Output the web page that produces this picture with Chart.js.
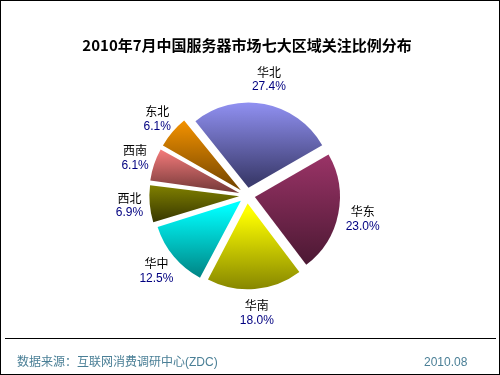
<!DOCTYPE html>
<html>
<head>
<meta charset="utf-8">
<script src="https://cdn.jsdelivr.net/npm/chart.js@4.4.1/dist/chart.umd.min.js"></script>
<style>
  html, body { margin: 0; padding: 0; background: #fff; }
  #wrap { position: relative; width: 500px; height: 375px; box-sizing: border-box; border: 1px solid #000; overflow: hidden; }
  #chart { position: absolute; left: 0; top: 0; }
  #rule { position: absolute; left: 4px; right: 3px; top: 337px; height: 0; border-top: 1px solid #000; }
  .foot { position: absolute; top: 353px; font: 12px "Liberation Sans", "Noto Sans CJK SC", sans-serif; color: #4a7f96; line-height: 16px; white-space: nowrap; }
  #src { left: 16px; }
  #date { left: 423px; }
</style>
</head>
<body>
<div id="wrap">
  <canvas id="chart" width="498" height="373"></canvas>
  <div id="rule"></div>
  <div class="foot" id="src">数据来源：互联网消费调研中心(ZDC)</div>
  <div class="foot" id="date">2010.08</div>
</div>
<script>
const titleText = '2010年7月中国服务器市场七大区域关注比例分布';
const regions = ['华北', '华东', '华南', '华中', '西北', '西南', '东北'];
const shares = [27.4, 23.0, 18.0, 12.5, 6.9, 6.1, 6.1];
const topColors = ['#9999FF', '#993366', '#FFFF00', '#00FFFF', '#808000', '#FF8080', '#FF9900'];
const bottomColors = ['#3d3d70', '#4a1832', '#7a7a00', '#007a7a', '#343400', '#7a3c3c', '#7a4900'];

const ROTATION = -38.6;
const RADIUS = 85;
const OFFSET = 32;          // Chart.js v4 translates arcs by offset/4
const SHIFT = OFFSET / 4;
const LABEL_R = 118;

function sliceGradient(ctx) {
  const chart = ctx.chart;
  const area = chart.chartArea;
  const i = ctx.dataIndex;
  if (!area || i === undefined) return topColors[i] || '#ccc';
  const cx = (area.left + area.right) / 2;
  const cy = (area.top + area.bottom) / 2;
  const total = shares.reduce((a, b) => a + b, 0);
  let cum = 0;
  for (let k = 0; k < i; k++) cum += shares[k];
  const base = (ROTATION - 90) * Math.PI / 180;
  const a0 = base + cum / total * Math.PI * 2;
  const a1 = base + (cum + shares[i]) / total * Math.PI * 2;
  const mid = (a0 + a1) / 2;
  const circ = a1 - a0;
  const r = RADIUS + SHIFT * (1 - Math.sin(Math.min(Math.PI, circ)));
  const ox = cx + Math.cos(mid) * SHIFT, oy = cy + Math.sin(mid) * SHIFT;
  const ys = [oy, oy + Math.sin(a0) * r, oy + Math.sin(a1) * r];
  [Math.PI / 2, -Math.PI / 2, 3 * Math.PI / 2, -3 * Math.PI / 2, 5 * Math.PI / 2].forEach(t => {
    if (t > a0 && t < a1) ys.push(oy + Math.sin(t) * r);
  });
  const y0 = Math.min(...ys), y1 = Math.max(...ys);
  const g = chart.ctx.createLinearGradient(0, y0, 0, y1);
  g.addColorStop(0, topColors[i]);
  g.addColorStop(1, bottomColors[i]);
  return g;
}

const labelPlugin = {
  id: 'sliceLabels',
  afterDatasetsDraw(chart) {
    const c = chart.ctx;
    const area = chart.chartArea;
    const cx = (area.left + area.right) / 2;
    const cy = (area.top + area.bottom) / 2;
    const meta = chart.getDatasetMeta(0);
    c.save();
    c.textAlign = 'center';
    c.textBaseline = 'middle';
    meta.data.forEach((el, i) => {
      const mid = (el.startAngle + el.endAngle) / 2;
      const x = cx + Math.cos(mid) * LABEL_R;
      const y = cy + Math.sin(mid) * LABEL_R;
      c.font = '12px "Noto Sans CJK SC", sans-serif';
      c.fillStyle = '#000';
      c.fillText(regions[i], x, y - 7.5);
      c.font = '12px "Liberation Sans", Arial, sans-serif';
      c.fillStyle = '#000080';
      c.fillText(shares[i].toFixed(1) + '%', x, y + 7.5);
    });
    c.restore();
  }
};

new Chart(document.getElementById('chart'), {
  type: 'pie',
  data: {
    labels: regions,
    datasets: [{
      data: shares,
      backgroundColor: sliceGradient,
      borderWidth: 0,
      offset: OFFSET
    }]
  },
  options: {
    responsive: false,
    animation: false,
    rotation: ROTATION,
    radius: RADIUS,
    layout: { padding: { left: 0, right: 6, top: 0, bottom: 82 } },
    plugins: {
      legend: { display: false },
      tooltip: { enabled: false },
      title: {
        display: true,
        text: titleText,
        color: '#000',
        font: { family: '"Noto Sans CJK SC", "Liberation Sans", sans-serif', size: 15, weight: 'bold' },
        padding: { top: 35, bottom: 45 }
      }
    }
  },
  plugins: [labelPlugin]
});
</script>
</body>
</html>
